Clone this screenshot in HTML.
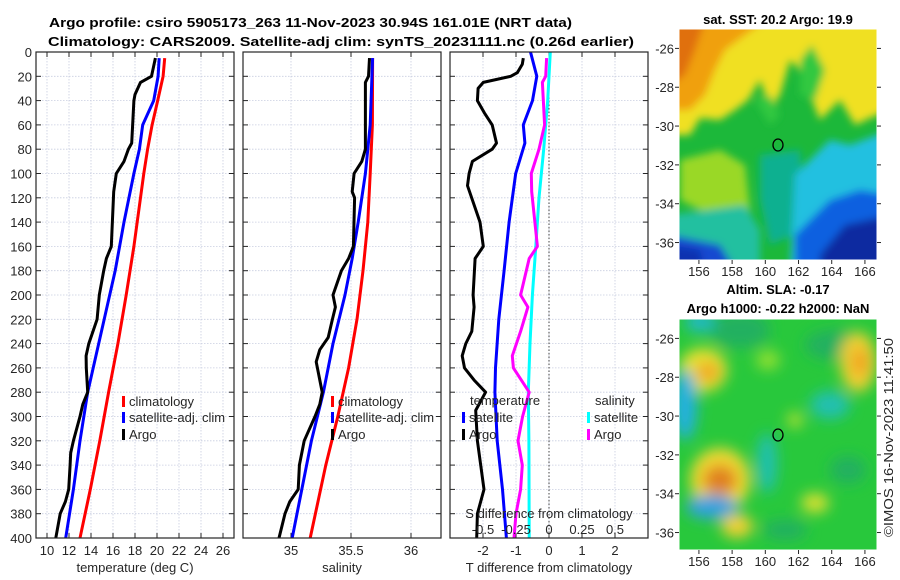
<!DOCTYPE html>
<html><head><meta charset="utf-8">
<style>
html,body{margin:0;padding:0;background:#fff;}
svg{display:block;font-family:"Liberation Sans","DejaVu Sans",sans-serif;}
.tk{font-size:13px;fill:#262626;}
.lb{font-size:13px;fill:#262626;}
.tt{font-size:13px;font-weight:bold;fill:#000;}
</style></head>
<body>
<svg id="fig" width="900" height="580" viewBox="0 0 900 580" xmlns="http://www.w3.org/2000/svg">
<defs>
<filter id="blur1" x="-20%" y="-20%" width="140%" height="140%"><feGaussianBlur stdDeviation="4"/></filter>
<filter id="blur2" x="-20%" y="-20%" width="140%" height="140%"><feGaussianBlur stdDeviation="7"/></filter>
<clipPath id="c1"><rect x="679" y="29" width="198" height="231"/></clipPath>
<clipPath id="c2"><rect x="679" y="319" width="198" height="231"/></clipPath>
</defs>
<text class="tt" x="49" y="27" textLength="523" lengthAdjust="spacingAndGlyphs">Argo profile: csiro 5905173_263 11-Nov-2023 30.94S 161.01E (NRT data)</text>
<text class="tt" x="48" y="46" textLength="586" lengthAdjust="spacingAndGlyphs">Climatology: CARS2009. Satellite-adj clim: synTS_20231111.nc (0.26d earlier)</text>

<g id="maps">
<g clip-path="url(#c1)">
<rect x="679" y="29" width="198" height="231" fill="#1cb83a"/>
<g filter="url(#blur1)">
<polygon points="670,20 890,20 890,110 870,118 855,125 840,100 820,120 810,95 800,70 790,60 780,95 770,110 760,80 748,100 735,110 720,120 700,118 690,135 670,135" fill="#f0e020"/>
<polygon points="755,100 770,95 780,115 770,125" fill="#30c840"/>
<polygon points="800,60 812,45 825,70 815,100 800,95" fill="#30c840"/>
<polygon points="670,20 765,20 745,35 725,50 715,70 705,95 690,110 670,110" fill="#f0a010"/>
<polygon points="670,20 705,20 695,50 685,75 670,85" fill="#e07010"/>
<polygon points="680,160 720,150 745,165 750,210 720,220 680,200" fill="#9ad828"/>
<polygon points="670,215 745,205 760,230 760,270 670,270" fill="#20c0a0"/>
<polygon points="760,155 800,150 805,230 770,245 760,200" fill="#10b090"/>
<polygon points="795,175 830,140 850,145 890,130 890,270 790,270" fill="#20c0e0"/>
<polygon points="795,235 830,200 860,190 890,195 890,270 795,270" fill="#1060e0"/>
<polygon points="820,255 845,225 890,215 890,270 820,270" fill="#0a2aa0"/>
<polygon points="670,235 720,245 735,270 670,270" fill="#1848d0"/>
<polygon points="670,245 700,250 705,270 670,270" fill="#0a30b0"/>
</g>
<ellipse cx="778" cy="145" rx="5" ry="6" fill="none" stroke="#000" stroke-width="1.3"/>
</g>
<rect x="679" y="29" width="198" height="231" fill="none" stroke="#fff" stroke-width="1"/>
<g clip-path="url(#c2)">
<rect x="679" y="319" width="198" height="231" fill="#28c83c"/>
<g filter="url(#blur2)">
<ellipse cx="740" cy="330" rx="30" ry="18" fill="#22b060"/>
<ellipse cx="835" cy="345" rx="30" ry="15" fill="#22b060"/>
<ellipse cx="700" cy="322" rx="15" ry="10" fill="#20b8c8"/>
<ellipse cx="703" cy="370" rx="24" ry="22" fill="#e8e030"/>
<ellipse cx="708" cy="372" rx="12" ry="10" fill="#f0a828"/>
<ellipse cx="720" cy="480" rx="30" ry="32" fill="#f0d830"/>
<ellipse cx="720" cy="480" rx="17" ry="15" fill="#e08020"/>
<ellipse cx="858" cy="362" rx="18" ry="30" fill="#f0d030"/>
<ellipse cx="860" cy="362" rx="8" ry="14" fill="#f0a020"/>
<ellipse cx="685" cy="405" rx="12" ry="35" fill="#20b0e0"/>
<ellipse cx="712" cy="507" rx="26" ry="12" fill="#30a0e0"/>
<ellipse cx="830" cy="405" rx="20" ry="14" fill="#20c0b0"/>
<ellipse cx="767" cy="463" rx="10" ry="30" fill="#20c0b0"/>
<ellipse cx="737" cy="526" rx="16" ry="12" fill="#f0d030"/>
<ellipse cx="815" cy="503" rx="14" ry="10" fill="#d8e030"/>
<ellipse cx="768" cy="360" rx="12" ry="10" fill="#90e030"/>
<ellipse cx="795" cy="420" rx="8" ry="8" fill="#b0e030"/>
<ellipse cx="848" cy="470" rx="18" ry="14" fill="#22b060"/>
<ellipse cx="785" cy="530" rx="22" ry="10" fill="#22b060"/>
</g>
<ellipse cx="778" cy="435" rx="5" ry="6" fill="none" stroke="#000" stroke-width="1.3"/>
</g>
<rect x="679" y="319" width="198" height="231" fill="none" stroke="#fff" stroke-width="1"/>
<text class="tt" x="778" y="24" text-anchor="middle">sat. SST: 20.2 Argo: 19.9</text>
<text class="tt" x="778" y="294" text-anchor="middle">Altim. SLA: -0.17</text>
<text class="tt" x="778" y="313" text-anchor="middle">Argo h1000: -0.22 h2000: NaN</text>
<text class="tk" transform="translate(893,537) rotate(-90)" textLength="199" lengthAdjust="spacingAndGlyphs">©IMOS 16-Nov-2023 11:41:50</text>
</g>
<g id="plots"></g>
</svg>
<script>
// ---- data ----
const depthArgoT = [5,20,25,35,40,75,80,90,100,115,160,170,180,200,220,240,250,260,280,290,300,320,330,340,360,370,380,400];
const tempArgo   = [19.85,19.5,18.5,18.0,17.9,17.7,17.4,17.0,16.3,16.06,15.85,15.4,15.15,14.75,14.55,13.8,13.55,13.57,13.7,13.25,13.0,12.4,12.15,12.1,11.97,11.67,11.2,10.8];
const depthClimT = [5,20,40,60,80,100,140,160,200,240,280,320,360,400];
const tempClim   = [20.7,20.55,20.06,19.55,19.15,18.8,18.2,17.9,17.2,16.45,15.6,14.8,13.94,13.0];
const depthSatT  = [5,20,40,60,80,100,140,180,240,280,320,360,400];
const tempSat    = [20.2,20.1,19.7,18.7,18.4,17.9,17.0,16.2,14.7,13.7,13.0,12.4,11.7];

const depthArgoS = [5,20,25,80,90,100,115,120,160,170,180,200,210,220,235,245,255,270,280,290,300,320,340,360,370,380,400];
const salArgo    = [35.654,35.646,35.62,35.62,35.59,35.526,35.51,35.53,35.52,35.48,35.42,35.35,35.37,35.345,35.31,35.24,35.21,35.24,35.26,35.24,35.20,35.11,35.07,35.06,34.99,34.95,34.90];
const depthClimS = [5,60,100,140,180,220,260,300,340,400];
const salClim    = [35.68,35.678,35.66,35.64,35.60,35.55,35.48,35.39,35.29,35.16];
const depthSatS  = [5,60,100,140,170,200,240,280,320,360,400];
const salSat     = [35.68,35.66,35.62,35.56,35.51,35.45,35.35,35.27,35.17,35.09,35.01];

const depthDT    = [5,10,17,20,25,30,40,50,60,75,80,90,100,110,140,160,170,200,210,230,240,250,260,270,280,295,320,340,360,380,400];
const dTArgo     = [-0.78,-0.81,-0.96,-1.16,-1.99,-2.15,-2.17,-1.96,-1.72,-1.59,-1.72,-2.32,-2.42,-2.47,-2.09,-1.99,-2.24,-2.30,-2.27,-2.34,-2.52,-2.63,-2.56,-2.27,-1.92,-2.22,-2.17,-2.07,-1.97,-2.17,-2.19];
const depthDTs   = [0,20,40,60,75,100,140,180,220,260,280,320,360,400];
const dTSat      = [-0.56,-0.37,-0.5,-0.78,-0.73,-1.01,-1.21,-1.36,-1.52,-1.62,-1.64,-1.57,-1.41,-1.29];
const depthDSs   = [0,40,80,120,160,200,240,280,320,400];
const dSSat      = [0.01,-0.01,-0.04,-0.076,-0.1,-0.126,-0.144,-0.157,-0.152,-0.15];
const depthDSa   = [5,20,25,60,80,100,115,160,170,200,210,230,250,260,280,300,320,340,360,380,400];
const dSArgo     = [-0.018,-0.025,-0.05,-0.033,-0.076,-0.134,-0.131,-0.088,-0.15,-0.215,-0.16,-0.215,-0.278,-0.27,-0.15,-0.2,-0.235,-0.202,-0.215,-0.25,-0.265];

const depthTicks = [0,20,40,60,80,100,120,140,160,180,200,220,240,260,280,300,320,340,360,380,400];
const tTicks = [10,12,14,16,18,20,22,24,26];
const sTicks = [35,35.5,36];
const dtTicks = [-2,-1,0,1,2];
const dsTicks = [-0.5,-0.25,0,0.25,0.5];

// ---- layout ----
const NS="http://www.w3.org/2000/svg";
const root=document.getElementById('plots');
const Y0=52,Y1=538;
const yS=d=>Y0+(d/400)*(Y1-Y0);
function mk(tag,attrs,parent){const e=document.createElementNS(NS,tag);for(const k in attrs)e.setAttribute(k,attrs[k]);(parent||root).appendChild(e);return e;}
function txt(s,x,y,cls,anchor,parent){const t=mk('text',{x:x,y:y,class:cls,'text-anchor':anchor||'middle'},parent);t.textContent=s;return t;}

function panel(name,x0,x1,xmin,xmax,xticks,xlabel,showY){
  const g=mk('g',{});
  
  
  const xS=v=>x0+(v-xmin)/(xmax-xmin)*(x1-x0);
  depthTicks.forEach(d=>{
    const l=mk('line',{x1:x0,x2:x1,y1:yS(d),y2:yS(d),stroke:'#c8cde0','stroke-width':0.8,'stroke-dasharray':'1.5,1.5'},g);
    
    
    mk('line',{x1:x0,x2:x0+5,y1:yS(d),y2:yS(d),stroke:'#262626'},g);
    mk('line',{x1:x1,x2:x1-5,y1:yS(d),y2:yS(d),stroke:'#262626'},g);
    if(showY){const t=txt(String(d),x0-4,yS(d)+5,'tk','end',g);
      
      }
  });
  xticks.forEach(v=>{
    mk('line',{x1:xS(v),x2:xS(v),y1:Y0,y2:Y1,stroke:'#c8cde0','stroke-width':0.8,'stroke-dasharray':'1.5,1.5'},g);
    mk('line',{x1:xS(v),x2:xS(v),y1:Y1,y2:Y1-5,stroke:'#262626'},g);
    mk('line',{x1:xS(v),x2:xS(v),y1:Y0,y2:Y0+5,stroke:'#262626'},g);
    const t=txt(String(v),xS(v),555,'tk','middle',g);
    
    
  });
  const xl=txt(xlabel,(x0+x1)/2,572,'lb','middle',g);
  
  
  return {g,xS};
}
function line(p,xs,ds,color,name,w){
  const pts=xs.map((v,i)=>p.xS(v).toFixed(1)+','+yS(ds[i]).toFixed(1)).join(' ');
  const pl=mk('polyline',{points:pts,fill:'none',stroke:color,'stroke-width':w||3,'stroke-linejoin':'round'},p.g);
  
  
}
function frame(p,x0,x1){mk('rect',{x:x0,y:Y0,width:x1-x0,height:Y1-Y0,fill:'none',stroke:'#262626','stroke-width':1.2},p.g);}
function legend(g,x,y,color,label,name){
  mk('rect',{x:x,y:y-10,width:3,height:11,fill:color},g);
  const t=txt(label,x+7,y,'lb','start',g);
  
  
}

// Panel 1: temperature
const p1=panel('temperature-panel',36,234,9,27,tTicks,'temperature (deg C)',true);
line(p1,tempClim,depthClimT,'#ff0000','climatology-temp-line');
line(p1,tempSat,depthSatT,'#0000ff','satellite-temp-line');
line(p1,tempArgo,depthArgoT,'#000000','argo-temp-line');
frame(p1,36,234);
legend(p1.g,122,406,'#ff0000','climatology','legend-climatology');
legend(p1.g,122,422,'#0000ff','satellite-adj. clim','legend-satellite');
legend(p1.g,122,439,'#000000','Argo','legend-argo');

// Panel 2: salinity
const p2=panel('salinity-panel',243,441,34.6,36.25,sTicks,'salinity',false);
line(p2,salClim,depthClimS,'#ff0000','climatology-sal-line');
line(p2,salSat,depthSatS,'#0000ff','satellite-sal-line');
line(p2,salArgo,depthArgoS,'#000000','argo-sal-line');
frame(p2,243,441);
legend(p2.g,331,406,'#ff0000','climatology','legend-climatology-sal');
legend(p2.g,331,422,'#0000ff','satellite-adj. clim','legend-satellite-sal');
legend(p2.g,331,439,'#000000','Argo','legend-argo-sal');

// Panel 3: differences
const p3=panel('difference-panel',450,648,-3,3,dtTicks,'T difference from climatology',false);
const zx=p3.xS(0);
mk('line',{x1:zx,x2:zx,y1:Y0,y2:Y1,stroke:'#444','stroke-width':1,'stroke-dasharray':'1.5,2'},p3.g);
const sScale={xS:v=>p3.xS(v*4),g:p3.g};
line(sScale,dSSat,depthDSs,'#00ffff','satellite-sdiff-line');
line(sScale,dSArgo,depthDSa,'#ff00ff','argo-sdiff-line');
line(p3,dTSat,depthDTs,'#0000ff','satellite-tdiff-line');
line(p3,dTArgo,depthDT,'#000000','argo-tdiff-line');
frame(p3,450,648);
const sl=txt('S difference from climatology',549,518,'lb','middle',p3.g);


dsTicks.forEach(v=>{const t=txt(String(v),sScale.xS(v),534,'tk','middle',p3.g);
  
  });
const lt=txt('temperature',470,405,'lb','start',p3.g);


const ls=txt('salinity',595,405,'lb','start',p3.g);


legend(p3.g,462,422,'#0000ff','satellite','legend-t-satellite');
legend(p3.g,462,439,'#000000','Argo','legend-t-argo');
legend(p3.g,587,422,'#00ffff','satellite','legend-s-satellite');
legend(p3.g,587,439,'#ff00ff','Argo','legend-s-argo');

// Map axes
const lonTicks=[156,158,160,162,164,166];
const latTicks=[-26,-28,-30,-32,-34,-36];
const mg=document.getElementById('maps');
[[29,260],[319,550]].forEach(([top,bot],mi)=>{
  const lonS=l=>679+(l-154.8)*16.6;
  const latS=a=>top+(-25-a)*((bot-top)/11.9);
  lonTicks.forEach(l=>{
    mk('line',{x1:lonS(l),x2:lonS(l),y1:bot,y2:bot+4,stroke:'#262626'},mg);
    const t=txt(String(l),lonS(l),bot+16,'tk','middle',mg);
    
    
  });
  latTicks.forEach(a=>{
    mk('line',{x1:679,x2:675,y1:latS(a),y2:latS(a),stroke:'#262626'},mg);
    mk('line',{x1:877,x2:881,y1:latS(a),y2:latS(a),stroke:'#262626'},mg);
    const t=txt(String(a),674,latS(a)+5,'tk','end',mg);
    
    
  });
});
</script>
</body></html>
